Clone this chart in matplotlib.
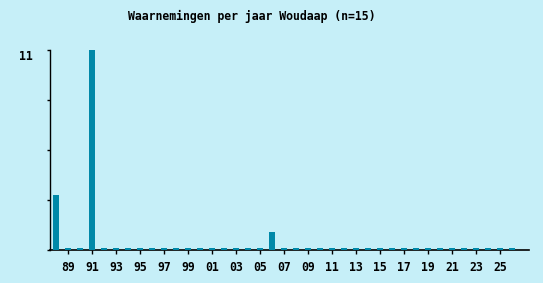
import matplotlib.pyplot as plt
import numpy as np

years = np.arange(1988, 2027)
counts = np.zeros(len(years))
counts[years == 1988] = 3
counts[years == 1991] = 11
counts[years == 2006] = 1

tick_years = years[1::2][:19]  # 89 .. 25
tick_labels = [f"{y % 100:02d}" for y in tick_years]
y_max = counts.max()

bg = "#c6eff8"
bar_col = "#0088a8"

fig = plt.figure(figsize=(5.43, 2.83), dpi=100, facecolor=bg)
W, H = 543, 283
ax = fig.add_axes([50 / W, 33 / H, (529 - 50) / W, 200 / H])
ax.set_facecolor(bg)

# zero years show as a thin stub on the axis
shown = np.where(counts == 0, 0.11, counts)
ax.bar(years, shown, width=0.42, color=bar_col, clip_on=False, zorder=3)

ax.set_xlim(1987.5, 1987.5 + 479 / 12)
ax.set_ylim(0, y_max)
ax.set_yticks(np.linspace(0, y_max, 5))
ax.set_yticklabels([])
ax.set_xticks(tick_years)
ax.set_xticklabels(tick_labels)

font = dict(family="DejaVu Sans Mono", weight="bold", size=8.3)
for lab in ax.get_xticklabels():
    lab.set_fontfamily("DejaVu Sans Mono")
    lab.set_fontweight("bold")
    lab.set_fontsize(8.3)

# only the max gets a label, sitting a bit below its tick
ax.annotate(f"{int(y_max)}", xy=(0, y_max), xycoords=("axes fraction", "data"),
            xytext=(-17, -7), textcoords="offset pixels",
            ha="right", va="center", **font)

ax.tick_params(axis="x", direction="out", length=3, width=1, pad=5)
ax.tick_params(axis="y", direction="out", length=2, width=1)
ax.spines["top"].set_visible(False)
ax.spines["right"].set_visible(False)
ax.spines["left"].set_linewidth(1)
ax.spines["bottom"].set_linewidth(1.2)

fig.text(252 / W, 1 - 16 / H, "Waarnemingen per jaar Woudaap (n=15)",
         ha="center", va="center", **font)

fig.savefig("out.png", dpi=100, facecolor=bg)
